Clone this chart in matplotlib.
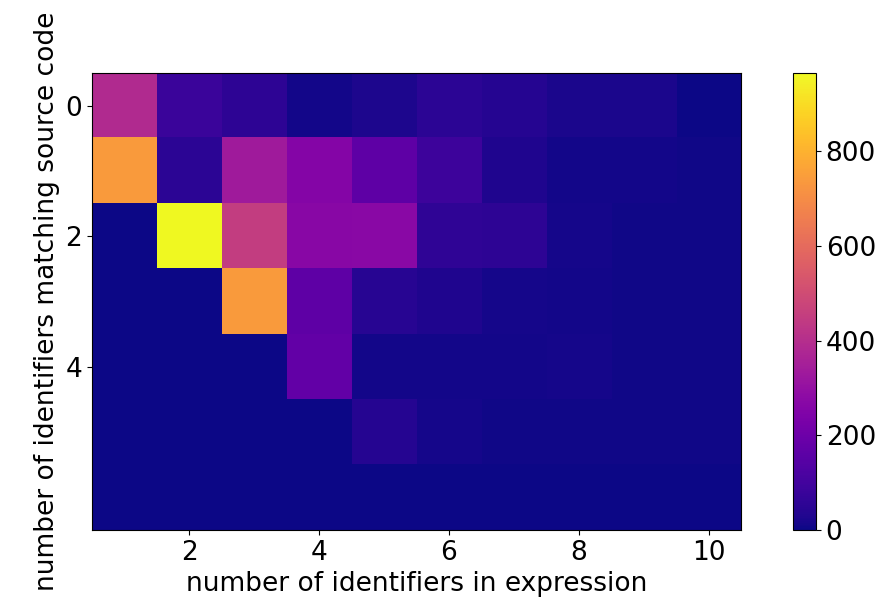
import numpy as np
import matplotlib
matplotlib.use("Agg")
import matplotlib.pyplot as plt

# counts: rows = identifiers matching source code (0..6),
# columns = identifiers in expression (1..10)
n_in_expr = [1, 2, 3, 4, 5, 6, 7, 8, 9, 10]
n_matching = [0, 1, 2, 3, 4, 5, 6]

row0 = [385, 80, 55, 10, 25, 50, 40, 20, 20, 3]
row1 = [740, 50, 335, 260, 165, 90, 30, 10, 8, 5]
row2 = [0, 965, 450, 270, 275, 60, 55, 15, 6, 5]
row3 = [0, 0, 740, 165, 45, 30, 15, 8, 6, 5]
row4 = [0, 0, 0, 175, 10, 8, 8, 15, 5, 5]
row5 = [0, 0, 0, 0, 40, 12, 5, 5, 5, 5]
row6 = [0, 0, 0, 0, 0, 3, 3, 3, 3, 3]

counts = np.array([row0, row1, row2, row3, row4, row5, row6])

plt.rcParams['font.size'] = 19

fig = plt.figure(figsize=(8.87, 6.15), dpi=100)
ax = fig.add_axes([0.1037, 0.1382, 0.7317, 0.7431])
cax = fig.add_axes([793 / 887, 0.1382, 23 / 887, 0.7431])

im = ax.imshow(counts, cmap='plasma', vmin=0,
               extent=(n_in_expr[0] - 0.5, n_in_expr[-1] + 0.5,
                       n_matching[-1] + 0.5, n_matching[0] - 0.5),
               aspect='auto')
ax.set_xticks([2, 4, 6, 8, 10])
ax.set_yticks([0, 2, 4])
ax.set_xlabel('number of identifiers in expression')
ax.set_ylabel('number of identifiers matching source code')

cb = fig.colorbar(im, cax=cax)
cb.set_ticks([0, 200, 400, 600, 800])

fig.savefig('out.png', dpi=100)
